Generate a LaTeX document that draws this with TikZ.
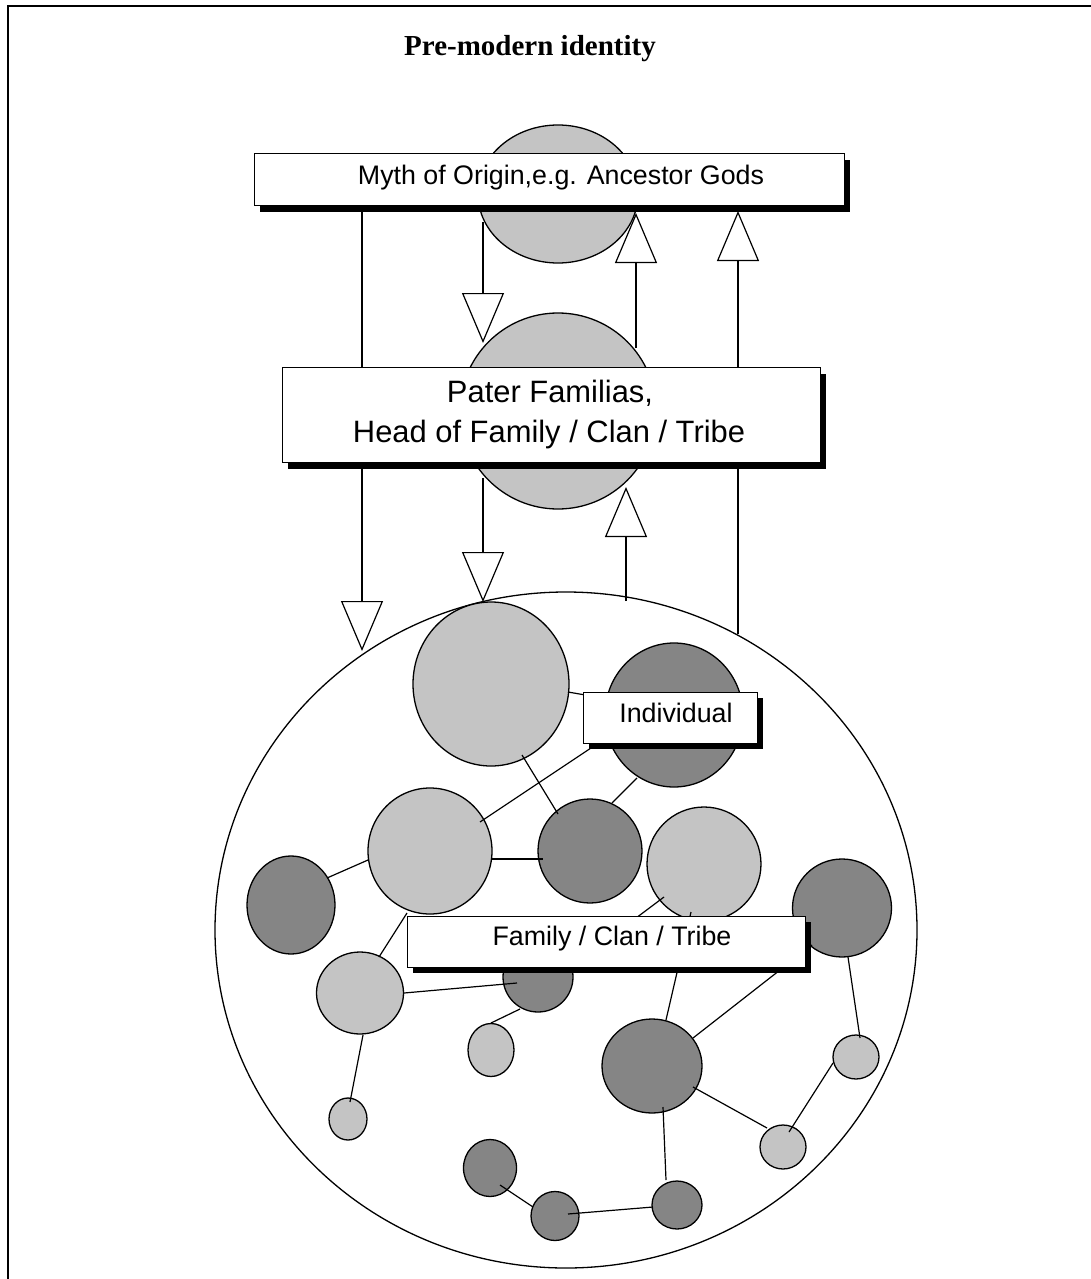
\documentclass[tikz,border=0pt]{standalone}
\usepackage{fontspec}
\setmainfont{Liberation Sans}
\newfontfamily\titlefont{Liberation Serif}
\usetikzlibrary{arrows.meta,shapes.geometric}

\definecolor{paleshade}{HTML}{C4C4C4}
\definecolor{deepshade}{HTML}{858585}

\tikzset{
  outline/.style={draw=black, line width=1.3pt},
  lightdisc/.style={ellipse, outline, fill=paleshade, inner sep=0pt},
  darkdisc/.style={ellipse, outline, fill=deepshade, inner sep=0pt},
  link/.style={draw=black, line width=1.2pt},
  flow/.style={link, -{Triangle[fill=white, length=50pt, width=42pt]}},
  labelbox/.style={rectangle, outline, fill=white, inner sep=0pt, anchor=north west},
  shadowbox/.style={rectangle, fill=black, inner sep=0pt, anchor=north west},
  boxtext/.style={anchor=base, inner sep=0pt, font=\fontsize{26.8}{32}\selectfont},
  bigtext/.style={anchor=base, inner sep=0pt, font=\fontsize{30.9}{40}\selectfont},
}

\begin{document}
\begin{tikzpicture}[x=1pt, y=-1pt]
\useasboundingbox (0,0) rectangle (1091,1279);

% page frame (top and left edges)
\draw[line width=2pt] (8,1279) -- (8,6) -- (1091,6);

% heading
\node[anchor=base, inner sep=0pt, font=\titlefont\bfseries\fontsize{29}{34}\selectfont] (title) at (530,56) {Pre-modern identity};

% upper level discs
\node[lightdisc, minimum width=160pt, minimum height=138pt] (myth) at (558,194) {};
\node[lightdisc, minimum width=196pt, minimum height=196pt] (pater) at (558,411) {};

% the community
\node[ellipse, outline, fill=white, inner sep=0pt, minimum width=702pt, minimum height=676pt] (community) at (566,930) {};

% flows between the levels
\coordinate (mythL) at (362,212);
\coordinate (commL) at (362,651);
\coordinate (mythB) at (483,222);
\coordinate (paterT) at (483,343);
\coordinate (paterR) at (636,348);
\coordinate (mythR) at (636,213);
\coordinate (commR) at (738,634);
\coordinate (mythS) at (738,211);
\coordinate (paterB) at (483,478);
\coordinate (commT) at (483,602);
\coordinate (commM) at (626,601);
\coordinate (paterD) at (626,487);

\draw[flow] (mythL) -- (commL);
\draw[flow] (mythB) -- (paterT);
\draw[flow] (paterR) -- (mythR);
\draw[flow] (commR) -- (mythS);
\draw[flow] (paterB) -- (commT);
\draw[flow] (commM) -- (paterD);

% members of the family / clan / tribe
\node[lightdisc, minimum width=156pt, minimum height=164pt] (L1) at (491,684) {};
\node[darkdisc,  minimum width=138pt, minimum height=144pt] (D1) at (674,715) {};
\node[lightdisc, minimum width=124pt, minimum height=126pt] (L2) at (430,851) {};
\node[darkdisc,  minimum width=104pt, minimum height=104pt] (D2) at (590,851) {};
\node[lightdisc, minimum width=114pt, minimum height=114pt] (L3) at (704,864) {};
\node[darkdisc,  minimum width=88pt,  minimum height=98pt]  (D3) at (291,905) {};
\node[darkdisc,  minimum width=99pt,  minimum height=98pt]  (D4) at (842,908) {};
\node[lightdisc, minimum width=87pt,  minimum height=82pt]  (L4) at (360,993) {};
\node[darkdisc,  minimum width=70pt,  minimum height=70pt]  (D5) at (538,977) {};
\node[lightdisc, minimum width=46pt,  minimum height=53pt]  (L5) at (491,1050) {};
\node[darkdisc,  minimum width=100pt, minimum height=94pt]  (D6) at (652,1066) {};
\node[lightdisc, minimum width=46pt,  minimum height=44pt]  (L6) at (856,1057) {};
\node[lightdisc, minimum width=38pt,  minimum height=42pt]  (L7) at (348,1119) {};
\node[lightdisc, minimum width=46pt,  minimum height=44pt]  (L8) at (783,1147) {};
\node[darkdisc,  minimum width=53pt,  minimum height=57pt]  (D7) at (490,1168) {};
\node[darkdisc,  minimum width=48pt,  minimum height=49pt]  (D8) at (555,1216) {};
\node[darkdisc,  minimum width=50pt,  minimum height=48pt]  (D9) at (677,1205) {};

% ties between members
\coordinate (L1a) at (568,692);  \coordinate (D1a) at (620,701);
\coordinate (L2b) at (480,822);  \coordinate (D1b) at (600,742);
\coordinate (L1c) at (522,755);  \coordinate (D2c) at (558,814);
\coordinate (D2d) at (612,803);  \coordinate (D1d) at (637,778);
\coordinate (D3e) at (327,878);  \coordinate (L2e) at (368,860);
\coordinate (L2f) at (491,859);  \coordinate (D2f) at (543,859);
\coordinate (L2g) at (407,913);  \coordinate (L4g) at (379,957);
\coordinate (L4h) at (404,993);  \coordinate (D5h) at (517,983);
\coordinate (D5i) at (520,1009); \coordinate (L5i) at (491,1023);
\coordinate (L4j) at (363,1035); \coordinate (L7j) at (350,1102);
\coordinate (L3k) at (664,897);  \coordinate (D5k) at (600,945);
\coordinate (L3l) at (691,912);  \coordinate (D6l) at (666,1020);
\coordinate (D4m) at (812,945);  \coordinate (D6m) at (693,1038);
\coordinate (D4n) at (848,957);  \coordinate (L6n) at (860,1038);
\coordinate (D6o) at (693,1087); \coordinate (L8o) at (767,1128);
\coordinate (L6p) at (833,1063); \coordinate (L8p) at (789,1132);
\coordinate (D6q) at (663,1107); \coordinate (D9q) at (666,1180);
\coordinate (D7r) at (500,1185); \coordinate (D8r) at (533,1207);
\coordinate (D8s) at (568,1214); \coordinate (D9s) at (653,1207);

\draw[link] (L1a) -- (D1a);
\draw[link] (L2b) -- (D1b);
\draw[link] (L1c) -- (D2c);
\draw[link] (D2d) -- (D1d);
\draw[link] (D3e) -- (L2e);
\draw[link] (L2f) -- (D2f);
\draw[link] (L2g) -- (L4g);
\draw[link] (L4h) -- (D5h);
\draw[link] (D5i) -- (L5i);
\draw[link] (L4j) -- (L7j);
\draw[link] (L3k) -- (D5k);
\draw[link] (L3l) -- (D6l);
\draw[link] (D4m) -- (D6m);
\draw[link] (D4n) -- (L6n);
\draw[link] (D6o) -- (L8o);
\draw[link] (L6p) -- (L8p);
\draw[link] (D6q) -- (D9q);
\draw[link] (D7r) -- (D8r);
\draw[link] (D8s) -- (D9s);

% labelled boxes with drop shadows
\node[shadowbox, minimum width=590pt, minimum height=52pt] (mythshadow) at (260,160) {};
\node[labelbox,  minimum width=590pt, minimum height=52pt] (mythbox) at (254,153) {};
\node[boxtext] (mythlabel) at (561,184) {Myth of Origin,e.g. Ancestor Gods};

\node[shadowbox, minimum width=538pt, minimum height=95pt] (patershadow) at (288,374) {};
\node[labelbox,  minimum width=538pt, minimum height=95pt] (paterbox) at (282,367) {};
\node[bigtext] (paterlabelA) at (550,402) {Pater Familias,};
\node[bigtext] (paterlabelB) at (549,442) {Head of Family / Clan / Tribe};

\node[shadowbox, minimum width=174pt, minimum height=51pt] (indshadow) at (589,698) {};
\node[labelbox,  minimum width=174pt, minimum height=51pt] (indbox) at (583,692) {};
\node[boxtext] (indlabel) at (676,722) {Individual};

\node[shadowbox, minimum width=398pt, minimum height=51pt] (famshadow) at (413,922) {};
\node[labelbox,  minimum width=398pt, minimum height=51pt] (fambox) at (407,916) {};
\node[boxtext] (famlabel) at (612,945) {Family / Clan / Tribe};

\end{tikzpicture}
\end{document}
